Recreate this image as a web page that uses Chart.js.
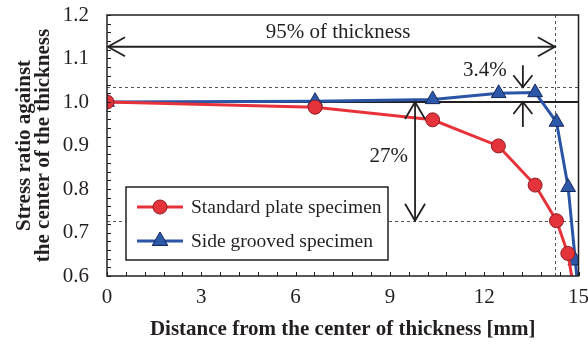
<!DOCTYPE html>
<html>
<head>
<meta charset="utf-8">
<script src="https://cdn.jsdelivr.net/npm/chart.js@4.4.1/dist/chart.umd.min.js"></script>
<style>
  html, body { margin: 0; padding: 0; background: #fff; }
</style>
</head>
<body>
<canvas id="stressChart" width="588" height="347"></canvas>
<script>
// distance from mid-thickness [mm] and stress ratio for each specimen
const standardDistance = [0, 6.62, 10.36, 12.45, 13.62, 14.30, 14.66, 14.95];
const standardRatio    = [1.0, 0.988, 0.959, 0.899, 0.809, 0.727, 0.652, 0.53];

const groovedDistance = [0, 6.62, 10.36, 12.46, 13.62, 14.30, 14.67, 14.90, 15.0];
const groovedRatio    = [1.0, 1.002, 1.006, 1.02, 1.022, 0.954, 0.804, 0.635, 0.555];

const xTicks = [0, 3, 6, 9, 12, 15];
const yTicks = [0.6, 0.7, 0.8, 0.9, 1.0, 1.1, 1.2];

// annotation values
const halfThickness = 15;
const thicknessShare = 0.95;          // 95% of thickness
const overshoot = 0.034;              // 3.4% rise of the grooved specimen
const reductionAtEdge = standardRatio[5]; // standard plate at 95% thickness

const serif = "'Liberation Serif', 'Times New Roman', serif";
const ink = '#231f20';
const red = '#e8323a';
const blue = '#2a55a6';

const toPoints = (xs, ys) => xs.map((x, i) => ({ x: x, y: ys[i] }));

function arrowHead(ctx, x, y, ang, len, half) {
    const bx = x - Math.cos(ang) * len;
    const by = y - Math.sin(ang) * len;
    const px = -Math.sin(ang) * half;
    const py = Math.cos(ang) * half;
    ctx.beginPath();
    ctx.moveTo(bx + px, by + py);
    ctx.lineTo(x, y);
    ctx.lineTo(bx - px, by - py);
    ctx.stroke();
}

function arrow(ctx, x1, y1, x2, y2, bothEnds, len, half) {
    ctx.beginPath();
    ctx.moveTo(x1, y1);
    ctx.lineTo(x2, y2);
    ctx.stroke();
    const ang = Math.atan2(y2 - y1, x2 - x1);
    arrowHead(ctx, x2, y2, ang, len, half);
    if (bothEnds) arrowHead(ctx, x1, y1, ang + Math.PI, len, half);
}

const notesPlugin = {
    id: 'thicknessNotes',
    beforeDatasetsDraw(chart) {
        const { ctx, chartArea: a, scales: { x, y } } = chart;
        ctx.save();
        // dashed guide lines
        ctx.strokeStyle = '#555';
        ctx.lineWidth = 1;
        ctx.setLineDash([3, 3]);
        [1 + overshoot, reductionAtEdge].forEach(v => {
            const py = Math.round(y.getPixelForValue(v)) + 0.5;
            ctx.beginPath();
            ctx.moveTo(a.left, py);
            ctx.lineTo(a.right, py);
            ctx.stroke();
        });
        const vx = Math.round(x.getPixelForValue(halfThickness * thicknessShare)) + 0.5;
        ctx.beginPath();
        ctx.moveTo(vx, a.top);
        ctx.lineTo(vx, a.bottom);
        ctx.stroke();
        ctx.setLineDash([]);

        // reference ratio 1.0
        ctx.strokeStyle = ink;
        ctx.lineWidth = 2;
        const p1 = y.getPixelForValue(1.0);
        ctx.beginPath();
        ctx.moveTo(a.left, p1);
        ctx.lineTo(a.right, p1);
        ctx.stroke();
        ctx.restore();
    },
    afterDatasetsDraw(chart) {
        const { ctx, chartArea: a, scales: { x, y } } = chart;
        ctx.save();
        ctx.strokeStyle = ink;
        ctx.fillStyle = ink;
        ctx.lineWidth = 1.8;

        // 95% of thickness
        const ay = y.getPixelForValue(1.127);
        const xEnd = x.getPixelForValue(halfThickness * thicknessShare);
        arrow(ctx, x.getPixelForValue(0) + 1, ay, xEnd, ay, true, 17, 9.5);
        ctx.font = `21px ${serif}`;
        ctx.textAlign = 'center';
        ctx.textBaseline = 'middle';
        ctx.fillText('95% of thickness', x.getPixelForValue(7.35), y.getPixelForValue(1.16));

        // 27% drop of the standard plate
        const dx = x.getPixelForValue(9.8);
        arrow(ctx, dx, y.getPixelForValue(1.0), dx, y.getPixelForValue(reductionAtEdge), true, 17, 10);
        ctx.textAlign = 'right';
        ctx.fillText('27%', dx - 7, y.getPixelForValue(0.874));

        // 3.4% rise of the grooved specimen
        const ox = x.getPixelForValue(13.23);
        const top = y.getPixelForValue(1 + overshoot);
        const one = y.getPixelForValue(1.0);
        arrow(ctx, ox, top - 22, ox, top, false, 12, 9.5);
        arrow(ctx, ox, one + 25, ox, one, false, 12, 9.5);
        ctx.fillText('3.4%', ox - 16, y.getPixelForValue(1.073));

        // plot frame and inward ticks
        ctx.lineWidth = 1.5;
        ctx.strokeRect(a.left, a.top, a.right - a.left, a.bottom - a.top);
        ctx.lineWidth = 1;
        ctx.beginPath();
        for (let i = 0; i <= 30; i++) {
            const py = Math.round(y.getPixelForValue(0.6 + i * 0.02)) + 0.5;
            ctx.moveTo(a.left, py);
            ctx.lineTo(a.left + 4, py);
        }
        for (let i = 0; i <= 25; i++) {
            const px = Math.round(x.getPixelForValue(i * 0.6)) + 0.5;
            ctx.moveTo(px, a.bottom);
            ctx.lineTo(px, a.bottom - 4);
        }
        ctx.stroke();

        // legend box
        const lx = a.left + 19, ly = a.top + 172, lw = 262, lh = 73;
        ctx.fillStyle = '#fff';
        ctx.fillRect(lx, ly, lw, lh);
        ctx.lineWidth = 1.5;
        ctx.strokeStyle = ink;
        ctx.strokeRect(lx, ly, lw, lh);
        ctx.font = `19.5px ${serif}`;
        ctx.textAlign = 'left';
        ctx.textBaseline = 'middle';
        chart.data.datasets.forEach((ds, i) => {
            const ry = ly + 20 + i * 34;
            ctx.strokeStyle = ds.borderColor;
            ctx.lineWidth = 3;
            ctx.beginPath();
            ctx.moveTo(lx + 11, ry);
            ctx.lineTo(lx + 57, ry);
            ctx.stroke();
            ctx.fillStyle = ds.pointBackgroundColor;
            ctx.strokeStyle = ds.pointBorderColor;
            ctx.lineWidth = 1;
            const r = ds.legendRadius;
            const cx = lx + 34;
            ctx.beginPath();
            if (ds.pointStyle === 'triangle') {
                ctx.moveTo(cx, ry - r);
                ctx.lineTo(cx + r * 0.866, ry + r / 2);
                ctx.lineTo(cx - r * 0.866, ry + r / 2);
                ctx.closePath();
            } else {
                ctx.arc(cx, ry, r, 0, Math.PI * 2);
            }
            ctx.fill();
            ctx.stroke();
            ctx.fillStyle = ink;
            ctx.fillText(ds.label, lx + 65, ry + 1);
        });
        ctx.restore();
    }
};

const ctx = document.getElementById('stressChart').getContext('2d');

new Chart(ctx, {
    type: 'scatter',
    data: {
        datasets: [
            {
                label: 'Standard plate specimen',
                data: toPoints(standardDistance, standardRatio),
                showLine: true,
                borderColor: red,
                borderWidth: 3,
                pointStyle: 'circle',
                pointRadius: (c) => (c.raw && c.raw.y < 0.6 ? 0 : 7),
                legendRadius: 7,
                pointBackgroundColor: '#e5333c',
                pointBorderColor: '#8e1c24',
                pointBorderWidth: 1,
            },
            {
                label: 'Side grooved specimen',
                data: toPoints(groovedDistance, groovedRatio),
                showLine: true,
                borderColor: blue,
                borderWidth: 3,
                pointStyle: 'triangle',
                pointRadius: (c) => (c.raw && c.raw.y < 0.6 ? 0 : 8.5),
                legendRadius: 9,
                pointBackgroundColor: '#2b58a8',
                pointBorderColor: '#17295a',
                pointBorderWidth: 1,
            }
        ]
    },
    options: {
        responsive: false,
        animation: false,
        layout: { padding: { top: 15, right: 6, left: 0, bottom: 0 } },
        plugins: {
            legend: { display: false },
            tooltip: { enabled: false },
        },
        scales: {
            x: {
                type: 'linear',
                min: xTicks[0],
                max: xTicks[xTicks.length - 1],
                afterBuildTicks: (scale) => { scale.ticks = xTicks.map(v => ({ value: v })); },
                ticks: {
                    font: { family: serif, size: 21 },
                    color: ink,
                    padding: 9,
                },
                grid: { display: false, drawTicks: false },
                border: { display: false },
                title: {
                    display: true,
                    text: 'Distance from the center of thickness [mm]',
                    font: { family: serif, size: 21, weight: 'bold' },
                    color: ink,
                    padding: { top: 0, bottom: 5 },
                },
                afterFit: (scale) => {
                    scale.height = 71;
                    scale.paddingLeft = 0;
                    scale.paddingRight = 0;
                },
            },
            y: {
                type: 'linear',
                min: yTicks[0],
                max: yTicks[yTicks.length - 1],
                afterBuildTicks: (scale) => { scale.ticks = yTicks.map(v => ({ value: v })); },
                ticks: {
                    font: { family: serif, size: 21 },
                    color: ink,
                    padding: 18,
                    callback: (value) => value.toFixed(1),
                },
                grid: { display: false, drawTicks: false },
                border: { display: false },
                title: {
                    display: true,
                    text: ['Stress ratio against', 'the center of the thickness'],
                    font: { family: serif, size: 21, weight: 'bold', lineHeight: 0.92 },
                    color: ink,
                    padding: { top: 15, bottom: 0 },
                },
                afterFit: (scale) => {
                    scale.width = 107;
                    scale.paddingTop = 0;
                    scale.paddingBottom = 0;
                },
            }
        }
    },
    plugins: [notesPlugin]
});
</script>
</body>
</html>
